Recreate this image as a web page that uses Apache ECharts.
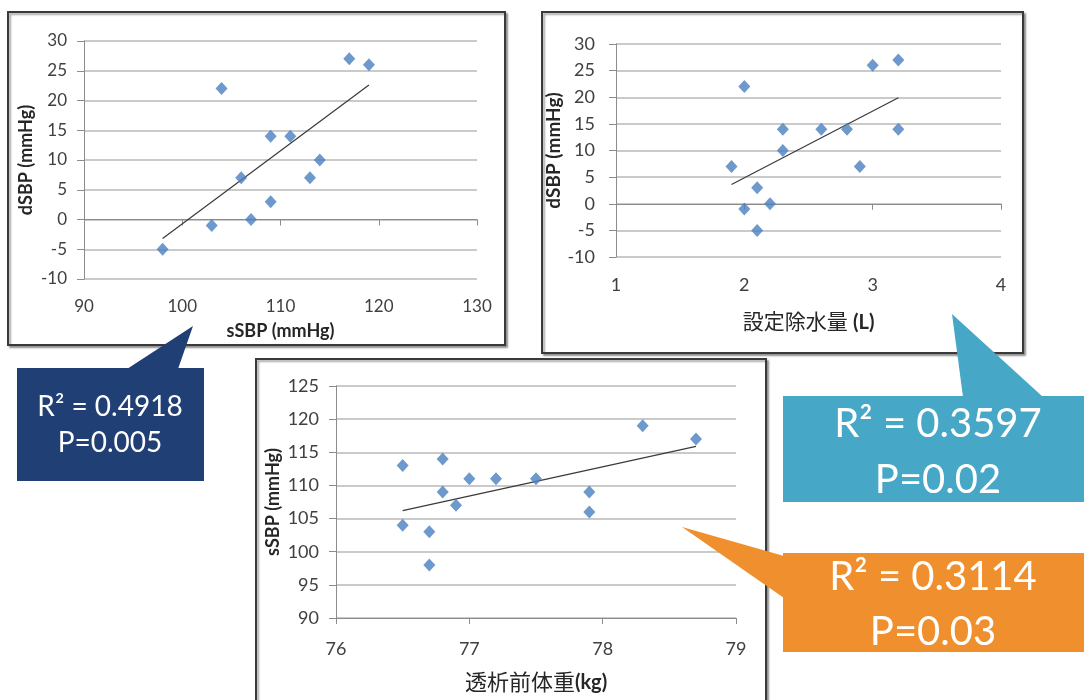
<!DOCTYPE html>
<html><head><meta charset="utf-8">
<script src="https://cdn.jsdelivr.net/npm/echarts@6/dist/echarts.min.js"></script>
<style>html,body{margin:0;padding:0;background:#fff}#c{width:1084px;height:700px}</style>
</head><body><div id="c"></div>
<script>
// Chart 1: sSBP vs dSBP
const sSBP1 = [98, 103, 104, 106, 107, 109, 109, 111, 113, 114, 117, 119];
const dSBP1 = [-5, -1, 22, 7, 0, 14, 3, 14, 7, 10, 27, 26];
const trend1 = [[98, -3.2], [119, 22.6]];
// Chart 2: 設定除水量 vs dSBP
const water2 = [1.9, 2.0, 2.0, 2.1, 2.1, 2.2, 2.3, 2.3, 2.6, 2.8, 2.9, 3.0, 3.2, 3.2];
const dSBP2  = [7, 22, -1, 3, -5, 0, 14, 10, 14, 14, 7, 26, 27, 14];
const trend2 = [[1.9, 3.6], [3.2, 19.9]];
// Chart 3: 透析前体重 vs sSBP
const weight3 = [76.5, 76.5, 76.7, 76.7, 76.8, 76.8, 76.9, 77.0, 77.2, 77.5, 77.9, 77.9, 78.3, 78.7];
const sSBP3   = [113, 104, 103, 98, 114, 109, 107, 111, 111, 111, 109, 106, 119, 117];
const trend3 = [[76.5, 106.2], [78.7, 115.9]];
// Callout texts
const callouts = [
  ['R² = 0.4918', 'P=0.005'],
  ['R² = 0.3597', 'P=0.02'],
  ['R² = 0.3114', 'P=0.03']
];

const LAT = 'Lato, "Noto Sans CJK JP", sans-serif';
const pairs = (xs, ys) => xs.map((x, i) => [x, ys[i]]);

function xAx(grid, min, max, interval, name, nameGap, fs, rich) {
  return {
    type: 'value', gridIndex: grid, min, max, interval,
    name, nameLocation: 'middle', nameGap,
    nameTextStyle: Object.assign({ fontFamily: LAT, fontSize: fs.name, fontWeight: fs.nameWeight || 'bold', color: '#262626' }, rich ? { rich } : {}),
    axisLine: { show: true, lineStyle: { color: '#8c8c8c', width: 1 } },
    axisTick: { show: true, length: 6, lineStyle: { color: '#8c8c8c' } },
    splitLine: { show: false },
    axisLabel: { fontFamily: LAT, fontSize: fs.label, color: '#404040', margin: fs.margin }
  };
}
function yAx(grid, min, max, interval, name, nameGap, fs) {
  return {
    type: 'value', gridIndex: grid, min, max, interval,
    name, nameLocation: 'middle', nameGap, nameRotate: 90,
    nameTextStyle: { fontFamily: LAT, fontSize: fs.name, fontWeight: 'bold', color: '#262626' },
    axisLine: { show: true, lineStyle: { color: '#8c8c8c', width: 1 } },
    axisTick: { show: true, length: 7, lineStyle: { color: '#8c8c8c' } },
    splitLine: { show: true, lineStyle: { color: '#b9b9b9', width: 1.5 } },
    axisLabel: { fontFamily: LAT, fontSize: fs.label, color: '#404040', margin: fs.margin }
  };
}
const MARK = '#4a7fc1';
function scatter(i, data) {
  return { type: 'scatter', xAxisIndex: i, yAxisIndex: i, data, symbol: 'diamond', symbolSize: [12, 13], itemStyle: { color: MARK }, z: 3 };
}
function trend(i, data) {
  return { type: 'line', xAxisIndex: i, yAxisIndex: i, data, symbol: 'none', lineStyle: { color: '#3a3a3a', width: 1.2 }, z: 2, silent: true };
}

function box(x, y, w, h) {
  return { type: 'rect', z: -10, shape: { x, y, width: w, height: h },
    style: { fill: '#fff', stroke: '#3a3a3a', lineWidth: 2, shadowColor: 'rgba(0,0,0,0.35)', shadowBlur: 2, shadowOffsetX: 2, shadowOffsetY: 2 } };
}
function calloutText(txt, x, y, size) {
  return { type: 'text', z: 101, style: { text: txt, x, y, align: 'center', verticalAlign: 'middle', fill: '#fff', fontFamily: LAT, fontSize: size } };
}
const BLUE = '#1f3f75', TEAL = '#47a7c6', ORANGE = '#f08f2d';
const boldRich = (s) => ({ b: { fontFamily: LAT, fontWeight: 'bold', fontSize: s, color: '#262626' } });

const chart = echarts.init(document.getElementById('c'), null, { renderer: 'canvas' });
chart.setOption({
  animation: false,
  backgroundColor: '#fff',
  grid: [
    { left: 84, top: 41, width: 393, height: 238 },
    { left: 616, top: 44, width: 385, height: 213 },
    { left: 336, top: 386, width: 400, height: 232 }
  ],
  xAxis: [
    xAx(0, 90, 130, 10, 'sSBP (mmHg)', 43, { label: 17, name: 18, margin: 19 }),
    xAx(1, 1, 4, 1, '設定除水量 {b|(L)}', 55, { label: 18, name: 21, nameWeight: 'normal', margin: 19 }, boldRich(20)),
    xAx(2, 76, 79, 1, '透析前体重{b|(kg)}', 54, { label: 18, name: 22, nameWeight: 'normal', margin: 22 }, boldRich(20))
  ],
  yAxis: [
    yAx(0, -10, 30, 5, 'dSBP (mmHg)', 49, { label: 17, name: 18, margin: 17 }),
    yAx(1, -10, 30, 5, 'dSBP (mmHg)', 48, { label: 18, name: 19, margin: 21 }),
    yAx(2, 90, 125, 5, 'sSBP (mmHg)', 54, { label: 18, name: 18, margin: 17 })
  ],
  series: [
    trend(0, trend1), scatter(0, pairs(sSBP1, dSBP1)),
    trend(1, trend2), scatter(1, pairs(water2, dSBP2)),
    trend(2, trend3), scatter(2, pairs(weight3, sSBP3))
  ],
  graphic: [
    box(8, 12, 497, 333),
    box(542, 12, 481, 341),
    box(256, 359, 510, 360),
    // blue callout
    { type: 'rect', z: 100, shape: { x: 17, y: 368, width: 187, height: 113 }, style: { fill: BLUE } },
    { type: 'polygon', z: 100, shape: { points: [[193, 326], [127, 369], [178, 369]] }, style: { fill: BLUE } },
    calloutText(callouts[0][0], 110, 407, 28),
    calloutText(callouts[0][1], 110, 443, 28),
    // teal callout
    { type: 'rect', z: 100, shape: { x: 783, y: 396, width: 301, height: 106 }, style: { fill: TEAL } },
    { type: 'polygon', z: 100, shape: { points: [[952, 314], [963, 397], [1043, 397]] }, style: { fill: TEAL } },
    calloutText(callouts[1][0], 938, 424, 40),
    calloutText(callouts[1][1], 938, 480, 40),
    // orange callout
    { type: 'rect', z: 100, shape: { x: 783, y: 553, width: 301, height: 99 }, style: { fill: ORANGE } },
    { type: 'polygon', z: 100, shape: { points: [[682, 527], [784, 556], [784, 598]] }, style: { fill: ORANGE } },
    calloutText(callouts[2][0], 933, 577, 40),
    calloutText(callouts[2][1], 933, 632, 40)
  ]
});
</script></body></html>
